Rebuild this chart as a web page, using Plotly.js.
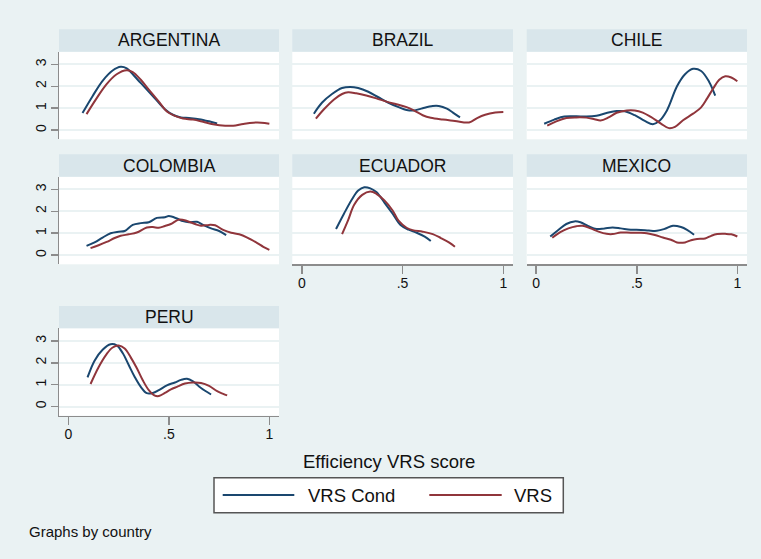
<!DOCTYPE html>
<html><head><meta charset="utf-8">
<script src="https://cdn.plot.ly/plotly-3.0.1.min.js"></script>
<style>html,body{margin:0;padding:0;background:#eaf2f3}</style>
</head><body><div id="chart" style="width:761px;height:559px"></div>
<script>
// ---------- data ----------
const countries = ["ARGENTINA","BRAZIL","CHILE","COLOMBIA","ECUADOR","MEXICO","PERU"];
const seriesNames = ["VRS Cond","VRS"];
const xTickVals = [0, 0.5, 1];
const xTickText = ["0", ".5", "1"];
const yTickVals = [0, 1, 2, 3];
const yTickText = ["0", "1", "2", "3"];

const argentinaCondX = [0.07,0.12,0.17,0.22,0.26,0.29,0.33,0.38,0.43,0.48,0.52,0.56,0.60,0.65,0.70,0.74];
const argentinaCondY = [0.78,1.55,2.25,2.72,2.89,2.82,2.45,1.95,1.45,0.95,0.70,0.58,0.55,0.50,0.40,0.30];
const argentinaVrsX = [0.09,0.14,0.19,0.24,0.29,0.32,0.36,0.40,0.45,0.49,0.53,0.57,0.62,0.67,0.72,0.78,0.82,0.87,0.92,0.96,1.0];
const argentinaVrsY = [0.73,1.45,2.10,2.55,2.73,2.65,2.30,1.85,1.30,0.85,0.65,0.53,0.48,0.38,0.27,0.20,0.20,0.28,0.34,0.34,0.29];

const brazilCondX = [0.06,0.10,0.15,0.20,0.24,0.28,0.33,0.38,0.43,0.48,0.52,0.56,0.60,0.65,0.68,0.72,0.75,0.785];
const brazilCondY = [0.75,1.25,1.65,1.92,1.97,1.92,1.75,1.50,1.25,1.05,0.92,0.90,1.00,1.10,1.10,0.98,0.80,0.58];
const brazilVrsX = [0.07,0.11,0.16,0.20,0.23,0.27,0.32,0.37,0.42,0.47,0.52,0.56,0.60,0.64,0.70,0.76,0.83,0.87,0.91,0.96,1.0];
const brazilVrsY = [0.52,0.95,1.40,1.65,1.73,1.68,1.58,1.45,1.30,1.18,1.05,0.88,0.68,0.56,0.48,0.42,0.35,0.55,0.70,0.80,0.83];

const chileCondX = [0.04,0.09,0.14,0.20,0.25,0.30,0.35,0.40,0.44,0.49,0.54,0.58,0.61,0.65,0.70,0.74,0.78,0.82,0.86,0.89];
const chileCondY = [0.29,0.48,0.62,0.63,0.62,0.66,0.78,0.87,0.86,0.68,0.42,0.27,0.40,0.90,2.00,2.55,2.80,2.70,2.20,1.57];
const chileVrsX = [0.055,0.10,0.15,0.20,0.25,0.29,0.32,0.36,0.40,0.45,0.49,0.53,0.57,0.62,0.66,0.69,0.73,0.78,0.82,0.85,0.88,0.91,0.94,0.97,1.0];
const chileVrsY = [0.20,0.40,0.55,0.58,0.57,0.50,0.44,0.58,0.79,0.90,0.90,0.80,0.60,0.30,0.09,0.15,0.45,0.75,1.04,1.45,1.90,2.30,2.46,2.40,2.23];

const colombiaCondX = [0.09,0.13,0.17,0.21,0.25,0.28,0.32,0.36,0.40,0.44,0.48,0.50,0.54,0.57,0.60,0.64,0.67,0.71,0.75,0.785];
const colombiaCondY = [0.42,0.58,0.80,1.00,1.07,1.10,1.38,1.46,1.50,1.70,1.73,1.78,1.67,1.55,1.50,1.52,1.38,1.22,1.10,0.91];
const colombiaVrsX = [0.11,0.15,0.19,0.23,0.26,0.30,0.34,0.39,0.42,0.45,0.48,0.51,0.55,0.59,0.63,0.66,0.70,0.73,0.77,0.81,0.85,0.89,0.94,0.97,1.0];
const colombiaVrsY = [0.32,0.45,0.60,0.78,0.88,0.95,1.03,1.26,1.28,1.25,1.33,1.42,1.62,1.56,1.42,1.34,1.38,1.36,1.15,1.02,0.95,0.80,0.55,0.38,0.24];

const ecuadorCondX = [0.17,0.21,0.25,0.28,0.31,0.34,0.37,0.41,0.45,0.49,0.53,0.57,0.61,0.64];
const ecuadorCondY = [1.19,1.90,2.56,2.95,3.10,3.05,2.88,2.40,1.90,1.37,1.16,1.02,0.84,0.64];
const ecuadorVrsX = [0.20,0.23,0.26,0.30,0.34,0.37,0.41,0.45,0.48,0.52,0.55,0.60,0.65,0.69,0.73,0.76];
const ecuadorVrsY = [0.96,1.60,2.30,2.75,2.90,2.80,2.50,2.05,1.57,1.25,1.14,1.07,0.96,0.78,0.58,0.38];

const mexicoCondX = [0.07,0.11,0.15,0.19,0.22,0.26,0.30,0.34,0.38,0.42,0.47,0.52,0.56,0.60,0.64,0.68,0.72,0.75,0.785];
const mexicoCondY = [0.85,1.15,1.42,1.54,1.50,1.32,1.19,1.22,1.26,1.22,1.16,1.15,1.12,1.11,1.20,1.34,1.28,1.15,0.93];
const mexicoVrsX = [0.08,0.12,0.16,0.20,0.23,0.27,0.31,0.35,0.38,0.42,0.47,0.52,0.55,0.59,0.63,0.67,0.70,0.74,0.77,0.80,0.84,0.87,0.90,0.94,0.97,1.0];
const mexicoVrsY = [0.79,1.05,1.22,1.32,1.34,1.22,1.07,0.97,0.96,1.03,1.02,1.02,1.00,0.92,0.80,0.70,0.58,0.58,0.68,0.74,0.76,0.88,0.96,0.97,0.95,0.85];

const peruCondX = [0.095,0.13,0.17,0.21,0.24,0.27,0.30,0.33,0.36,0.39,0.42,0.45,0.49,0.53,0.56,0.59,0.62,0.65,0.68,0.71];
const peruCondY = [1.33,2.10,2.60,2.85,2.80,2.45,1.90,1.35,0.90,0.61,0.62,0.75,0.97,1.10,1.22,1.27,1.15,0.92,0.72,0.55];
const peruVrsX = [0.11,0.15,0.19,0.22,0.25,0.28,0.31,0.34,0.37,0.40,0.43,0.45,0.48,0.51,0.54,0.58,0.62,0.66,0.70,0.74,0.77,0.79];
const peruVrsY = [1.03,1.80,2.40,2.70,2.79,2.65,2.25,1.76,1.20,0.75,0.50,0.48,0.62,0.78,0.90,1.05,1.10,1.08,0.95,0.70,0.58,0.51];

const condX = [argentinaCondX, brazilCondX, chileCondX, colombiaCondX, ecuadorCondX, mexicoCondX, peruCondX];
const condY = [argentinaCondY, brazilCondY, chileCondY, colombiaCondY, ecuadorCondY, mexicoCondY, peruCondY];
const vrsX = [argentinaVrsX, brazilVrsX, chileVrsX, colombiaVrsX, ecuadorVrsX, mexicoVrsX, peruVrsX];
const vrsY = [argentinaVrsY, brazilVrsY, chileVrsY, colombiaVrsY, ecuadorVrsY, mexicoVrsY, peruVrsY];

// ---------- layout geometry ----------
const W = 761, H = 559;
const px = v => v / W;
const py = v => 1 - v / H;
const colPx = [[59, 279], [292.3, 513], [526.7, 747]];
const rowPx = [[51.7, 139.3], [176.7, 264.3], [328.3, 415.7]];
const stripH = 22.4;
const BLUE = "#1a476f", RED = "#90353b";
const FONT = "Liberation Sans, Arial, sans-serif";
const AXC = "#8c8c8c";
const TXT = "#111111";
const showX = [false, false, false, false, true, true, true];

const traces = [];
const layout = {
  width: W, height: H,
  margin: {l: 0, r: 0, t: 0, b: 0},
  paper_bgcolor: "#eaf2f3",
  plot_bgcolor: "#ffffff",
  showlegend: false,
  font: {family: FONT, color: TXT},
  shapes: [], annotations: []
};

countries.forEach((name, i) => {
  const r = Math.floor(i / 3), c = i % 3;
  const k = i === 0 ? "" : String(i + 1);
  const xa = "x" + k, ya = "y" + k;
  traces.push({x: condX[i], y: condY[i], xaxis: xa, yaxis: ya, type: "scatter", mode: "lines",
    name: seriesNames[0], line: {color: BLUE, width: 2, shape: "spline", smoothing: 1}});
  traces.push({x: vrsX[i], y: vrsY[i], xaxis: xa, yaxis: ya, type: "scatter", mode: "lines",
    name: seriesNames[1], line: {color: RED, width: 2, shape: "spline", smoothing: 1}});
  layout["xaxis" + k] = {
    domain: [px(colPx[c][0]), px(colPx[c][1])], anchor: ya,
    range: [-0.047, 1.048], showgrid: false, zeroline: false,
    showline: showX[i], linecolor: AXC, linewidth: 1.5,
    ticks: showX[i] ? "outside" : "", ticklen: 8, tickcolor: AXC, tickwidth: 1.5,
    showticklabels: showX[i], tickvals: xTickVals, ticktext: xTickText,
    tickfont: {size: 14, family: FONT, color: TXT}, ticklabelstandoff: -3
  };
  layout["yaxis" + k] = {
    domain: [py(rowPx[r][1]), py(rowPx[r][0])], anchor: xa,
    range: [-0.42, 3.58], zeroline: false,
    showgrid: true, gridcolor: "#eaf2f3", gridwidth: 2,
    tickvals: yTickVals, ticktext: yTickText,
    showline: c === 0, linecolor: AXC, linewidth: 1.5,
    ticks: c === 0 ? "outside" : "", ticklen: 7, tickcolor: AXC, tickwidth: 1.5,
    showticklabels: c === 0, tickangle: -90, ticklabelstandoff: -1,
    tickfont: {size: 14, family: FONT, color: TXT}
  };
  // strip
  layout.shapes.push({type: "rect", xref: "paper", yref: "paper",
    x0: px(colPx[c][0]), x1: px(colPx[c][1]), y0: py(rowPx[r][0]), y1: py(rowPx[r][0] - stripH),
    fillcolor: "#d9e6eb", line: {width: 0}, layer: "below"});
  layout.annotations.push({xref: "paper", yref: "paper",
    x: px((colPx[c][0] + colPx[c][1]) / 2), y: py(rowPx[r][0] - stripH / 2),
    text: name, showarrow: false, xanchor: "center", yanchor: "middle",
    font: {size: 17.5, family: FONT, color: TXT}});
});

// x-axis title
layout.annotations.push({xref: "paper", yref: "paper", x: px(388.7), y: py(461.3),
  text: "Efficiency VRS score", showarrow: false, xanchor: "center", yanchor: "middle",
  font: {size: 18.5, family: FONT, color: TXT}});
// note
layout.annotations.push({xref: "paper", yref: "paper", x: px(27), y: py(531),
  text: "Graphs by country", showarrow: false, xanchor: "left", yanchor: "middle",
  font: {size: 15, family: FONT, color: TXT}});
// legend box
layout.shapes.push({type: "rect", xref: "paper", yref: "paper",
  x0: px(214), x1: px(563.3), y0: py(512.7), y1: py(477.7),
  fillcolor: "#ffffff", line: {color: "#555555", width: 1.5}});
layout.shapes.push({type: "line", xref: "paper", yref: "paper",
  x0: px(222.7), x1: px(294.3), y0: py(495), y1: py(495), line: {color: BLUE, width: 2}});
layout.shapes.push({type: "line", xref: "paper", yref: "paper",
  x0: px(429.3), x1: px(501.7), y0: py(495), y1: py(495), line: {color: RED, width: 2}});
layout.annotations.push({xref: "paper", yref: "paper", x: px(306), y: py(495),
  text: seriesNames[0], showarrow: false, xanchor: "left", yanchor: "middle",
  font: {size: 18.5, family: FONT, color: TXT}});
layout.annotations.push({xref: "paper", yref: "paper", x: px(512), y: py(495),
  text: seriesNames[1], showarrow: false, xanchor: "left", yanchor: "middle",
  font: {size: 18.5, family: FONT, color: TXT}});

Plotly.newPlot("chart", traces, layout, {staticPlot: true, displayModeBar: false});
</script></body></html>
